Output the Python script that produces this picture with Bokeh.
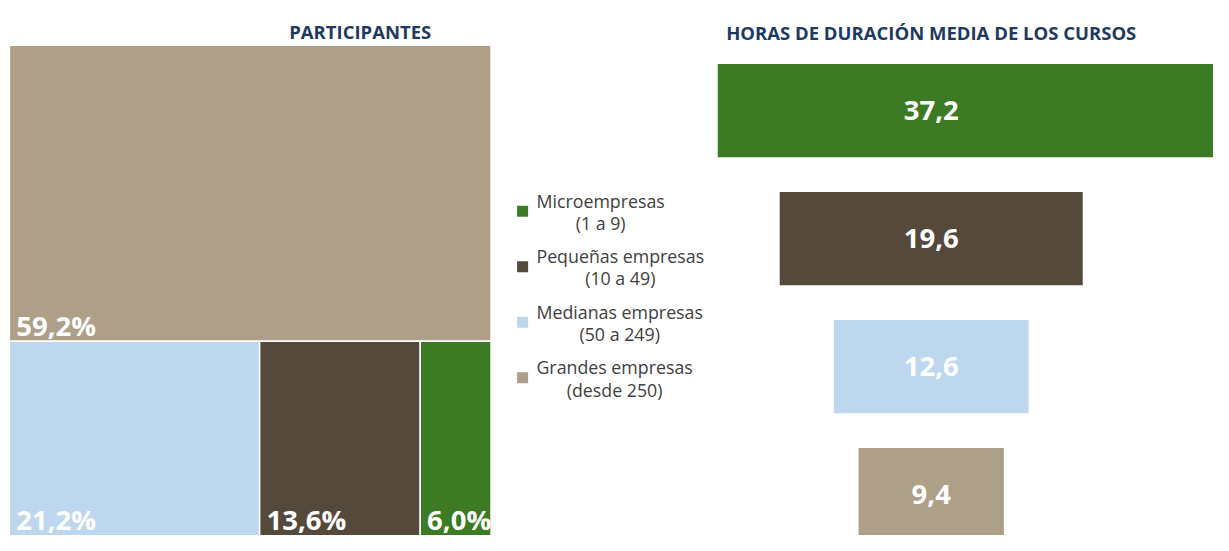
from bokeh.plotting import figure
from bokeh.layouts import row
from bokeh.models import Range1d
from bokeh.core.properties import value
from bokeh.embed import file_html
from bokeh.resources import INLINE

# ---------------- data ----------------
categories = ["Microempresas", "Pequeñas empresas", "Medianas empresas", "Grandes empresas"]
size_ranges = ["(1 a 9)", "(10 a 49)", "(50 a 249)", "(desde 250)"]
participantes = [6.0, 13.6, 21.2, 59.2]
horas = [37.2, 19.6, 12.6, 9.4]
colors = ["#3C7A24", "#54493A", "#BDD7EE", "#AE9F89"]

title_left = "PARTICIPANTES"
title_right = "HORAS DE DURACIÓN MEDIA DE LOS CURSOS"

# ---------------- layout constants ----------------
REF_W, REF_H = 1229, 551      # design canvas
W, H = 1213, 535              # drawn size
SX = W / REF_W
FONT = "Open Sans"
TITLE_COLOR = "#1F3A60"
W1, W2 = 508, 209
W3 = W - W1 - W2
X1 = W1 / SX
X2 = X1 + W2 / SX


def fmt(v):
    return f"{v:.1f}".replace(".", ",")


def base_fig(w, xr):
    p = figure(width=w, height=H, x_range=xr, y_range=Range1d(REF_H, 0),
               output_backend="svg", toolbar_location=None, min_border=0,
               outline_line_color=None, x_axis_location=None, y_axis_location=None,
               background_fill_color="white", border_fill_color="white")
    p.grid.visible = False
    return p


# ---------------- treemap (participantes) ----------------
TM_L, TM_T, TM_W, TM_H = 9, 46, 488, 515
p1 = base_fig(W1, Range1d(0, X1))

order = sorted(range(len(participantes)), key=lambda i: -participantes[i])
total = sum(participantes)
lefts, rights, tops, bottoms, fills, labels = [], [], [], [], [], []
first = order[0]
h_top = TM_H * participantes[first] / total
lefts.append(TM_L); rights.append(TM_L + TM_W); tops.append(TM_T); bottoms.append(TM_T + h_top)
fills.append(colors[first]); labels.append(fmt(participantes[first]) + "%")
rest = order[1:]
rest_sum = sum(participantes[i] for i in rest)
x = TM_L
for i in rest:
    w = TM_W * participantes[i] / rest_sum
    lefts.append(x); rights.append(x + w); tops.append(TM_T + h_top); bottoms.append(TM_T + TM_H)
    fills.append(colors[i]); labels.append(fmt(participantes[i]) + "%")
    x += w

p1.quad(left=lefts, right=rights, top=tops, bottom=bottoms, fill_color=fills,
        line_color="white", line_width=1.5)
p1.text(x=[l + 7 for l in lefts], y=[min(b - 16, REF_H - 16) for b in bottoms], text=labels,
        text_font=value(FONT), text_font_style="bold", text_font_size="27.5px",
        text_color="white", text_align="left", text_baseline="alphabetic")
p1.text(x=[364.5], y=[31.5], text=[title_left], text_font=value(FONT),
        text_font_style="bold", text_font_size="18.5px", text_color=TITLE_COLOR,
        text_align="center", text_baseline="alphabetic")

# ---------------- legend ----------------
p2 = base_fig(W2, Range1d(X1, X2))
LEG_X, LEG_TX, LEG_Y0, LEG_STEP = 529, 543, 217, 57.2
leg_y = [LEG_Y0 + i * LEG_STEP for i in range(len(categories))]
p2.scatter(x=[LEG_X] * len(categories), y=leg_y, marker="square", size=11,
           fill_color=colors, line_color=None)
p2.text(x=[LEG_TX] * len(categories), y=[yy - 23 for yy in leg_y],
        text=[c + "\n" + r for c, r in zip(categories, size_ranges)],
        text_font=value(FONT), text_font_size="17.8px", text_color="#404040",
        text_align="center", anchor="top_left", text_line_height=0.92)

# ---------------- centred bars (horas) ----------------
CX = 943
SCALE = 307 / 19.6  # ref px per hour
p3 = base_fig(W3, Range1d((X2 - CX) / SCALE, (REF_W - CX) / SCALE))
BAR_Y0, BAR_STEP, BAR_H = 113.5, 131.8, 96
bar_y = [BAR_Y0 + i * BAR_STEP for i in range(len(horas))]
p3.hbar(y=bar_y, height=BAR_H, left=[-v / 2 for v in horas], right=[v / 2 for v in horas],
        fill_color=colors, line_color=None)
p3.text(x=[0] * len(horas), y=bar_y, text=[fmt(v) for v in horas],
        text_font=value(FONT), text_font_style="bold", text_font_size="27.5px",
        text_color="white", text_align="center", text_baseline="middle")
p3.text(x=[0], y=[33], text=[title_right], text_font=value(FONT),
        text_font_style="bold", text_font_size="18.5px", text_color=TITLE_COLOR,
        text_align="center", text_baseline="alphabetic")

layout = row(p1, p2, p3, spacing=0)
open("out.html", "w").write(file_html(layout, INLINE))
